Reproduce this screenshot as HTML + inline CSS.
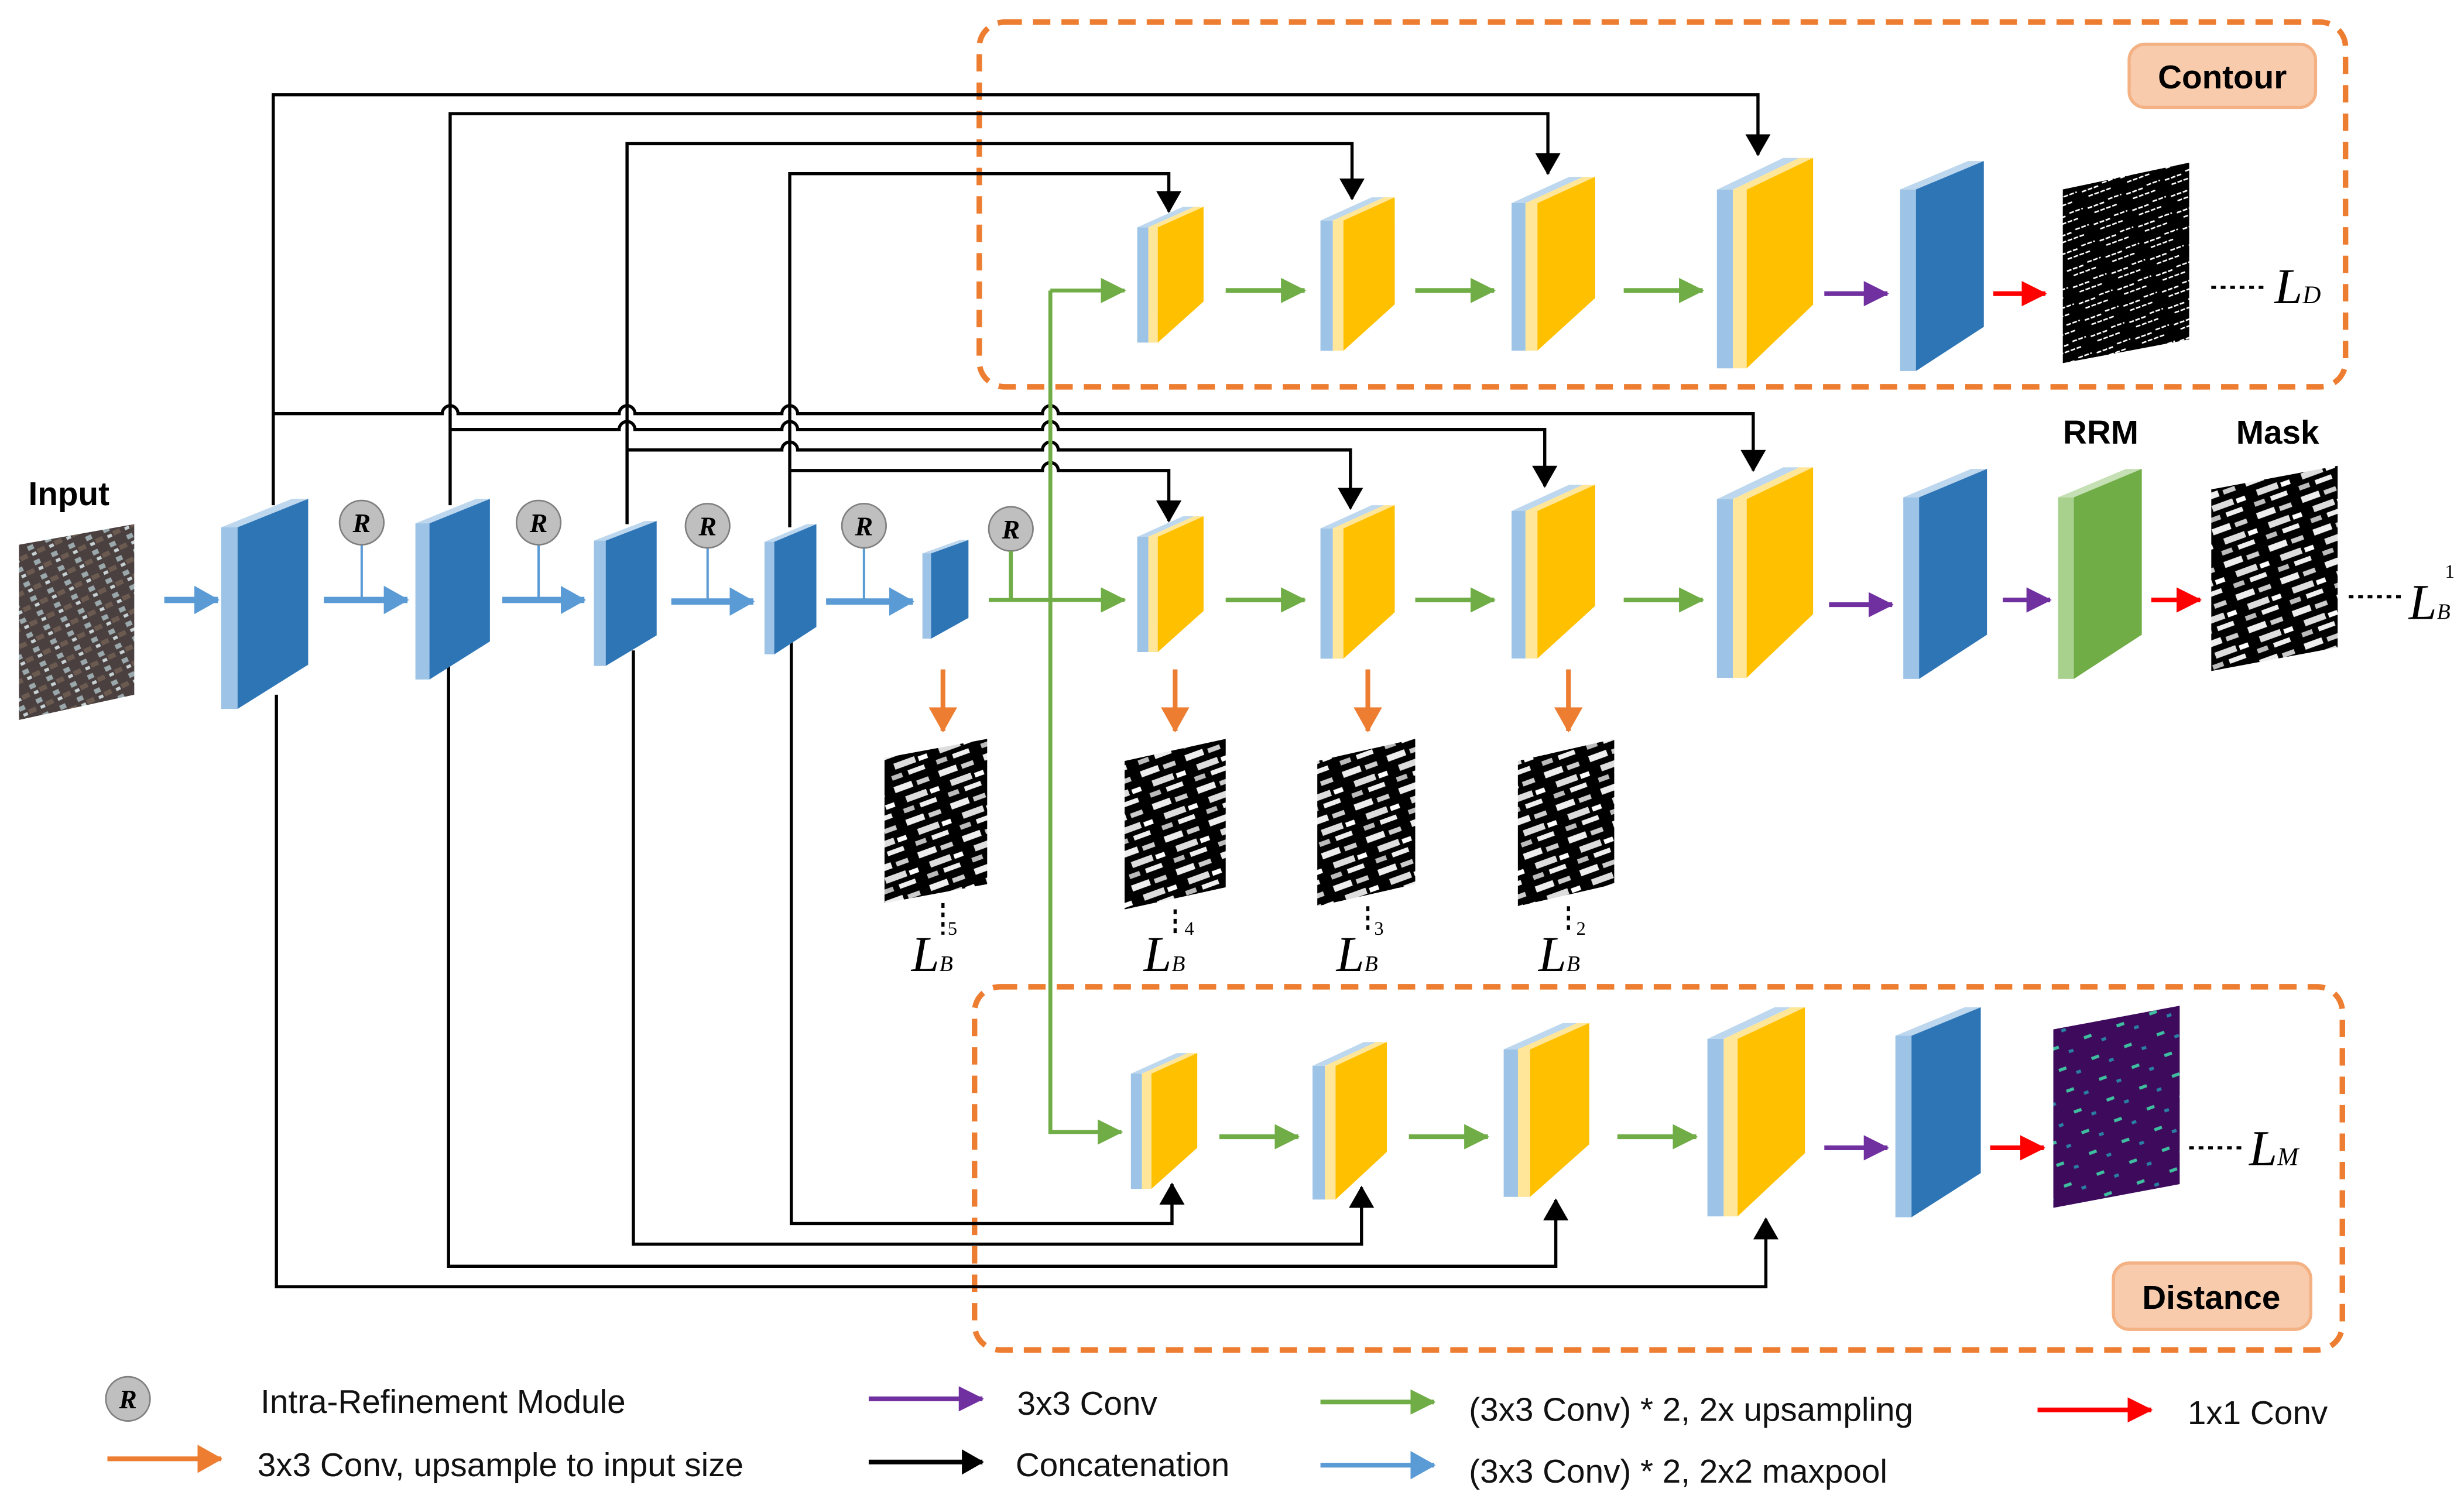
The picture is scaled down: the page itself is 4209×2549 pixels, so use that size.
<!DOCTYPE html>
<html><head><meta charset="utf-8"><style>html,body{margin:0;padding:0;background:#fff}svg{display:block}</style></head>
<body>
<svg width="4209" height="2549" viewBox="0 0 1560 945" preserveAspectRatio="none" xmlns="http://www.w3.org/2000/svg" font-family="Liberation Sans, sans-serif">
<defs>
<marker id="mk" markerUnits="userSpaceOnUse" markerWidth="14" markerHeight="16" refX="13" refY="8" orient="auto"><path d="M0,0 L14,8 L0,16 z" fill="#000"/></marker>
<marker id="mg" markerUnits="userSpaceOnUse" markerWidth="16" markerHeight="16" refX="15" refY="8" orient="auto"><path d="M0,0 L16,8 L0,16 z" fill="#70AD47"/></marker>
<marker id="mb" markerUnits="userSpaceOnUse" markerWidth="16" markerHeight="18" refX="15" refY="9" orient="auto"><path d="M0,0 L16,9 L0,18 z" fill="#5B9BD5"/></marker>
<marker id="mp" markerUnits="userSpaceOnUse" markerWidth="16" markerHeight="16" refX="15" refY="8" orient="auto"><path d="M0,0 L16,8 L0,16 z" fill="#7030A0"/></marker>
<marker id="mr" markerUnits="userSpaceOnUse" markerWidth="16" markerHeight="16" refX="15" refY="8" orient="auto"><path d="M0,0 L16,8 L0,16 z" fill="#FF0000"/></marker>
<marker id="mo" markerUnits="userSpaceOnUse" markerWidth="16" markerHeight="18" refX="15" refY="9" orient="auto"><path d="M0,0 L16,9 L0,18 z" fill="#ED7D31"/></marker>
<g id="yb">
<polygon points="0,13 7,13 36,0 29,0" fill="#BDD7EE"/>
<polygon points="7,13 13,13 42,0 36,0" fill="#FFE699"/>
<rect x="0" y="13" width="7" height="73" fill="#9DC3E6"/>
<rect x="7" y="13" width="6" height="73" fill="#FFE699"/>
<polygon points="13,13 42,0 42,60 13,86" fill="#FFC000"/>
</g>
<g id="bb">
<polygon points="0,18 10,18 53,0 43,0" fill="#BDD7EE"/>
<rect x="0" y="18" width="10" height="115" fill="#9DC3E6"/>
<polygon points="10,18 53,0 53,105 10,133" fill="#2E75B6"/>
</g>
<g id="gb">
<polygon points="0,18 10,18 53,0 43,0" fill="#C5E0B4"/>
<rect x="0" y="18" width="10" height="115" fill="#A9D18E"/>
<polygon points="10,18 53,0 53,105 10,133" fill="#70AD47"/>
</g>
<pattern id="st" width="30" height="22" patternUnits="userSpaceOnUse" patternTransform="rotate(-20)">
<rect width="30" height="22" fill="#000"/>
<rect x="1" y="2" width="12" height="4" fill="#eee"/><rect x="16" y="3" width="8" height="3" fill="#ccc"/>
<rect x="6" y="10" width="14" height="4" fill="#ddd"/><rect x="22" y="11" width="6" height="3" fill="#fff"/>
<rect x="2" y="17" width="7" height="3" fill="#bbb"/><rect x="13" y="17" width="11" height="3" fill="#eee"/>
</pattern>
<pattern id="ct" width="26" height="11" patternUnits="userSpaceOnUse" patternTransform="rotate(-20)">
<rect width="26" height="11" fill="#000"/>
<path d="M1,4 H12 M15,3 H24 M4,8 H20" stroke="#fff" stroke-width="1" stroke-dasharray="3,1"/>
</pattern>
<pattern id="ds" width="22" height="14" patternUnits="userSpaceOnUse" patternTransform="rotate(-20)">
<rect width="22" height="14" fill="#3D0A5C"/>
<rect x="3" y="4" width="5" height="2" fill="#3FBF9F"/><rect x="13" y="9" width="3" height="2" fill="#2A7FA0"/>
</pattern>
<pattern id="ip" width="12" height="10" patternUnits="userSpaceOnUse" patternTransform="rotate(-25)">
<rect width="12" height="10" fill="#4a4040"/>
<rect x="1" y="1" width="4" height="3" fill="#9aa8ac"/><rect x="6" y="5" width="5" height="3" fill="#6b5a50"/><rect x="2" y="6" width="3" height="2" fill="#c8d2d4"/>
</pattern>
</defs>

<rect x="620" y="14" width="865" height="231" rx="16" fill="none" stroke="#ED7D31" stroke-width="3.5" stroke-dasharray="11,7"/>
<rect x="617" y="625" width="866" height="230" rx="16" fill="none" stroke="#ED7D31" stroke-width="3.5" stroke-dasharray="11,7"/>
<rect x="1348" y="28" width="118" height="40" rx="10" fill="#F8CBAD" stroke="#F4B183" stroke-width="2"/>
<text x="1407" y="56" font-size="21" font-weight="bold" text-anchor="middle">Contour</text>
<rect x="1338" y="800" width="125" height="42" rx="10" fill="#F8CBAD" stroke="#F4B183" stroke-width="2"/>
<text x="1400" y="829" font-size="21" font-weight="bold" text-anchor="middle">Distance</text>

<g fill="none" stroke="#000" stroke-width="2">
<path d="M173,320 V60 H1113 V98" marker-end="url(#mk)"/>
<path d="M285,320 V72 H980 V110" marker-end="url(#mk)"/>
<path d="M397,332 V91 H856 V126" marker-end="url(#mk)"/>
<path d="M500,334 V110 H740 V134" marker-end="url(#mk)"/>
<path d="M173,262 H280 a5,5 0 0 1 10,0 H392 a5,5 0 0 1 10,0 H495 a5,5 0 0 1 10,0 H660 a5,5 0 0 1 10,0 H1110 V298" marker-end="url(#mk)"/>
<path d="M285,272 H392 a5,5 0 0 1 10,0 H495 a5,5 0 0 1 10,0 H660 a5,5 0 0 1 10,0 H978 V308" marker-end="url(#mk)"/>
<path d="M397,285 H495 a5,5 0 0 1 10,0 H660 a5,5 0 0 1 10,0 H855 V322" marker-end="url(#mk)"/>
<path d="M500,298 H660 a5,5 0 0 1 10,0 H740 V330" marker-end="url(#mk)"/>
<path d="M175,440 V815 H1118 V772" marker-end="url(#mk)"/>
<path d="M284,420 V802 H985 V760" marker-end="url(#mk)"/>
<path d="M401,412 V788 H862 V752" marker-end="url(#mk)"/>
<path d="M501,405 V775 H742 V750" marker-end="url(#mk)"/>
</g>

<text x="18" y="320" font-size="21" font-weight="bold">Input</text>
<polygon points="12,345 85,332 85,440 12,456" fill="url(#ip)"/>

<use href="#bb" transform="translate(140,316) scale(1.04,1)"/>
<use href="#bb" transform="translate(263,316) scale(0.89,0.86)"/>
<use href="#bb" transform="translate(376,330) scale(0.75,0.69)"/>
<use href="#bb" transform="translate(484,332) scale(0.62,0.62)"/>
<use href="#bb" transform="translate(584,342) scale(0.55,0.47)"/>

<g stroke="#5B9BD5" stroke-width="4" fill="none">
<path d="M104,380 H138" marker-end="url(#mb)"/>
<path d="M205,380 H258" marker-end="url(#mb)"/>
<path d="M318,380 H370" marker-end="url(#mb)"/>
<path d="M425,381 H477" marker-end="url(#mb)"/>
<path d="M523,381 H578" marker-end="url(#mb)"/>
</g>
<g stroke="#5B9BD5" stroke-width="1.5">
<path d="M229,345 V380 M341,345 V380 M448,347 V381 M547,347 V381"/>
</g>
<g fill="#BFBFBF" stroke="#7F7F7F" stroke-width="1">
<circle cx="229" cy="331" r="14"/><circle cx="341" cy="331" r="14"/><circle cx="448" cy="333" r="14"/><circle cx="547" cy="333" r="14"/><circle cx="640" cy="335" r="14"/>
</g>
<g font-size="17" font-style="italic" font-weight="bold" font-family="Liberation Serif, serif" text-anchor="middle">
<text x="229" y="337">R</text><text x="341" y="337">R</text><text x="448" y="339">R</text><text x="547" y="339">R</text><text x="640" y="341">R</text>
</g>

<g stroke="#70AD47" stroke-width="2.5" fill="none">
<path d="M640,349 V380"/>
<path d="M626,380 H712" marker-end="url(#mg)"/>
<path d="M665,184 H712" marker-end="url(#mg)"/>
<path d="M665,184 V717 H710" marker-end="url(#mg)"/>
</g>

<g>
<use href="#yb" transform="translate(720,131)"/>
<use href="#yb" transform="translate(836,125) scale(1.12,1.13)"/>
<use href="#yb" transform="translate(957,112) scale(1.26,1.28)"/>
<use href="#yb" transform="translate(1087,100) scale(1.45,1.55)"/>
<use href="#bb" transform="translate(1203,102)"/>

<use href="#yb" transform="translate(720,327)"/>
<use href="#yb" transform="translate(836,320) scale(1.12,1.13)"/>
<use href="#yb" transform="translate(957,307) scale(1.26,1.28)"/>
<use href="#yb" transform="translate(1087,296) scale(1.45,1.55)"/>
<use href="#bb" transform="translate(1205,297)"/>
<use href="#gb" transform="translate(1303,297)"/>

<use href="#yb" transform="translate(716,667)"/>
<use href="#yb" transform="translate(831,660) scale(1.12,1.16)"/>
<use href="#yb" transform="translate(952,648) scale(1.29,1.28)"/>
<use href="#yb" transform="translate(1081,638) scale(1.47,1.54)"/>
<use href="#bb" transform="translate(1200,638) scale(1.02,1)"/>
</g>

<g stroke-width="3" fill="none">
<g stroke="#70AD47">
<path d="M776,184 H826" marker-end="url(#mg)"/><path d="M896,184 H946" marker-end="url(#mg)"/><path d="M1028,184 H1078" marker-end="url(#mg)"/>
<path d="M776,380 H826" marker-end="url(#mg)"/><path d="M896,380 H946" marker-end="url(#mg)"/><path d="M1028,380 H1078" marker-end="url(#mg)"/>
<path d="M772,720 H822" marker-end="url(#mg)"/><path d="M892,720 H942" marker-end="url(#mg)"/><path d="M1024,720 H1074" marker-end="url(#mg)"/>
</g>
<g stroke="#7030A0">
<path d="M1155,186 H1195" marker-end="url(#mp)"/><path d="M1158,383 H1198" marker-end="url(#mp)"/><path d="M1268,380 H1298" marker-end="url(#mp)"/><path d="M1155,727 H1195" marker-end="url(#mp)"/>
</g>
<g stroke="#FF0000">
<path d="M1262,186 H1295" marker-end="url(#mr)"/><path d="M1362,380 H1393" marker-end="url(#mr)"/><path d="M1260,727 H1294" marker-end="url(#mr)"/>
</g>
<g stroke="#ED7D31">
<path d="M597,424 V463" marker-end="url(#mo)"/><path d="M744,424 V463" marker-end="url(#mo)"/><path d="M866,424 V463" marker-end="url(#mo)"/><path d="M993,424 V463" marker-end="url(#mo)"/>
</g>
</g>

<polygon points="1306,120 1386,103 1386,215 1306,230" fill="url(#ct)"/>
<polygon points="1400,310 1480,295 1480,410 1400,425" fill="url(#st)"/>
<polygon points="1300,652 1380,637 1380,750 1300,765" fill="url(#ds)"/>
<polygon points="560,480 625,468 625,560 560,572" fill="url(#st)"/>
<polygon points="712,482 776,468 776,562 712,576" fill="url(#st)"/>
<polygon points="834,482 896,468 896,560 834,574" fill="url(#st)"/>
<polygon points="961,482 1022,468 1022,560 961,574" fill="url(#st)"/>

<text x="1330" y="281" font-size="21" font-weight="bold" text-anchor="middle">RRM</text>
<text x="1442" y="281" font-size="21" font-weight="bold" text-anchor="middle">Mask</text>

<g stroke="#000" stroke-width="2" stroke-dasharray="3,3" fill="none">
<path d="M1400,182 H1436"/><path d="M1487,378 H1522"/><path d="M1386,727 H1422"/>
<path d="M597,572 V592"/><path d="M744,576 V592"/><path d="M866,574 V592"/><path d="M993,574 V592"/>
</g>
<g font-family="Liberation Serif, serif" font-style="italic">
<text x="1440" y="192" font-size="32">L<tspan font-size="16">D</tspan></text>
<text x="1525" y="392" font-size="32">L<tspan font-size="14">B</tspan></text><text x="1548" y="366" font-size="12" font-style="normal">1</text>
<text x="1424" y="738" font-size="32">L<tspan font-size="16">M</tspan></text>
<text x="577" y="615" font-size="32">L<tspan font-size="14">B</tspan></text><text x="600" y="592" font-size="12" font-style="normal">5</text>
<text x="724" y="615" font-size="32">L<tspan font-size="14">B</tspan></text><text x="750" y="592" font-size="12" font-style="normal">4</text>
<text x="846" y="615" font-size="32">L<tspan font-size="14">B</tspan></text><text x="870" y="592" font-size="12" font-style="normal">3</text>
<text x="974" y="615" font-size="32">L<tspan font-size="14">B</tspan></text><text x="998" y="592" font-size="12" font-style="normal">2</text>
</g>

<circle cx="81" cy="886" r="14" fill="#BFBFBF" stroke="#7F7F7F"/>
<text x="81" y="892" font-size="17" font-style="italic" font-weight="bold" font-family="Liberation Serif, serif" text-anchor="middle">R</text>
<g font-size="21" fill="#111">
<text x="165" y="895">Intra-Refinement Module</text>
<text x="163" y="935">3x3 Conv, upsample to input size</text>
<text x="644" y="896">3x3 Conv</text>
<text x="643" y="935">Concatenation</text>
<text x="930" y="900">(3x3 Conv) * 2, 2x upsampling</text>
<text x="930" y="939">(3x3 Conv) * 2, 2x2 maxpool</text>
<text x="1385" y="902">1x1 Conv</text>
</g>
<g stroke-width="3" fill="none">
<path d="M68,924 H140" stroke="#ED7D31" marker-end="url(#mo)"/>
<path d="M550,886 H622" stroke="#7030A0" marker-end="url(#mp)"/>
<path d="M550,926 H622" stroke="#000" marker-end="url(#mk)"/>
<path d="M836,888 H908" stroke="#70AD47" marker-end="url(#mg)"/>
<path d="M836,928 H908" stroke="#5B9BD5" marker-end="url(#mb)"/>
<path d="M1290,893 H1362" stroke="#FF0000" marker-end="url(#mr)"/>
</g>
</svg>
</body></html>
